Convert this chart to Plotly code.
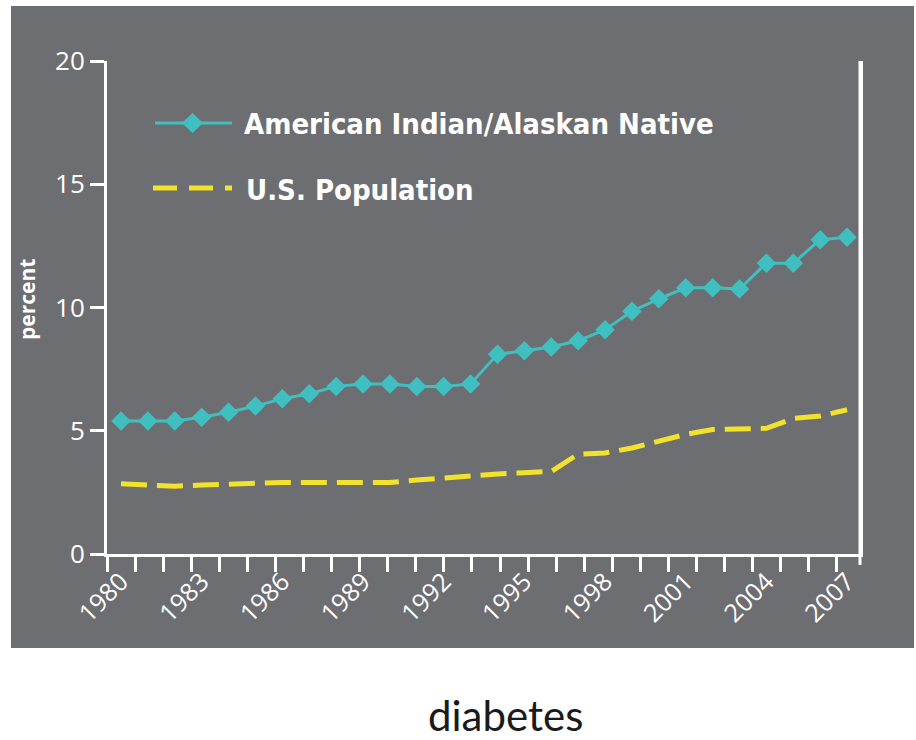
import plotly.graph_objects as go

# Diabetes prevalence (percent), 1980-2007
years = list(range(1980, 2008))
aian = [5.4, 5.4, 5.4, 5.55, 5.75, 6.0, 6.3, 6.5, 6.8, 6.9, 6.9, 6.8, 6.8, 6.9,
        8.1, 8.25, 8.4, 8.65, 9.1, 9.85, 10.35, 10.8, 10.8, 10.75, 11.8, 11.8,
        12.75, 12.85]
us_pop = [2.85, 2.8, 2.75, 2.8, 2.85, 2.9, 2.9, 2.9, 2.9, 2.85, 2.9, 3.0, 3.1,
          3.2, 3.25, 3.3, 3.35, 4.05, 4.1, 4.3, 4.6, 4.85, 5.05, 5.05, 5.1, 5.5,
          5.6, 5.85]
label_years = [1980, 1983, 1986, 1989, 1992, 1995, 1998, 2001, 2004, 2007]
y_ticks = [0, 5, 10, 15, 20]

names = ["American Indian/Alaskan Native", "U.S. Population"]

TEAL = "#40bfc0"
YELLOW = "#f3e22b"
PANEL = "#6d6e71"
WHITE = "#ffffff"
LEGEND_FONT = "Liberation Sans Narrow, Arial Narrow, DejaVu Sans Condensed"

W, H = 916, 740
L, R, T, B = 107, 56, 61, 186
PW, PH = W - L - R, H - T - B


def px(x):
    return (x - L) / PW


def py(y):
    return (H - B - y) / PH


fig = go.Figure()
fig.add_trace(go.Scatter(
    x=years, y=us_pop, mode="lines", name=names[1],
    line=dict(color=YELLOW, width=5, dash="26px,10px"),
))
fig.add_trace(go.Scatter(
    x=years, y=aian, mode="lines+markers", name=names[0],
    line=dict(color=TEAL, width=3),
    marker=dict(symbol="diamond", size=15, color=TEAL),
))

shapes = [
    # grey panel behind the whole chart
    dict(type="rect", xref="paper", yref="paper", layer="below",
         x0=px(11), x1=px(914), y0=py(648), y1=py(6),
         fillcolor=PANEL, line=dict(width=0)),
    # right frame line runs a little below the x axis
    dict(type="line", xref="paper", yref="paper",
         x0=1, x1=1, y0=py(565), y1=1,
         line=dict(color=WHITE, width=3)),
    # legend samples
    dict(type="line", xref="paper", yref="paper",
         x0=px(155), x1=px(232), y0=py(123), y1=py(123),
         line=dict(color=TEAL, width=3)),
    dict(type="path", xref="paper", yref="paper",
         path="M {a},{m} L {c},{t} L {b},{m} L {c},{bt} Z".format(
             a=px(182), b=px(203), c=px(192.5), m=py(123), t=py(113), bt=py(133)),
         fillcolor=TEAL, line=dict(width=0)),
    dict(type="line", xref="paper", yref="paper",
         x0=px(153), x1=px(232), y0=py(188), y1=py(188),
         line=dict(color=YELLOW, width=5, dash="24px,12px")),
]

annotations = [
    dict(text=names[0], xref="paper", yref="paper", x=px(242), y=py(124),
         xanchor="left", yanchor="middle", showarrow=False,
         font=dict(family=LEGEND_FONT, size=29, color=WHITE, weight="bold")),
    dict(text=names[1], xref="paper", yref="paper", x=px(244), y=py(190),
         xanchor="left", yanchor="middle", showarrow=False,
         font=dict(family=LEGEND_FONT, size=29, color=WHITE, weight="bold")),
    dict(text="percent", xref="paper", yref="paper", x=px(27), y=py(300),
         xanchor="center", yanchor="middle", textangle=-90, showarrow=False,
         font=dict(family="Open Sans", size=21, color=WHITE, weight="bold")),
    dict(text="diabetes", xref="paper", yref="paper", x=px(505), y=py(715),
         xanchor="center", yanchor="middle", showarrow=False,
         font=dict(family="Lato, Open Sans", size=42, color="#1a1a1a")),
]

fig.update_layout(
    width=W, height=H,
    margin=dict(l=L, r=R, t=T, b=B, pad=0),
    paper_bgcolor="white",
    plot_bgcolor=PANEL,
    showlegend=False,
    shapes=shapes,
    annotations=annotations,
    font=dict(family="Open Sans", color=WHITE),
)

fig.update_xaxes(
    range=[1979.48, 2007.48],
    showgrid=False, zeroline=False,
    showline=True, linecolor=WHITE, linewidth=3,
    tickvals=label_years, ticktext=[str(v) for v in label_years],
    ticks="", tickangle=-45,
    tickfont=dict(family="Open Sans", size=25, color=WHITE),
    minor=dict(tick0=1979.48, dtick=1.044, ticks="outside", ticklen=15,
               tickwidth=3, tickcolor=WHITE, showgrid=False),
)
fig.update_yaxes(
    range=[0, 20],
    showgrid=False, zeroline=False,
    showline=True, linecolor=WHITE, linewidth=3, mirror=True,
    tickvals=y_ticks, ticks="outside", ticklen=14, tickwidth=3,
    tickcolor=WHITE,
    tickfont=dict(family="Open Sans", size=26, color=WHITE),
)

fig.write_html("out.html")
